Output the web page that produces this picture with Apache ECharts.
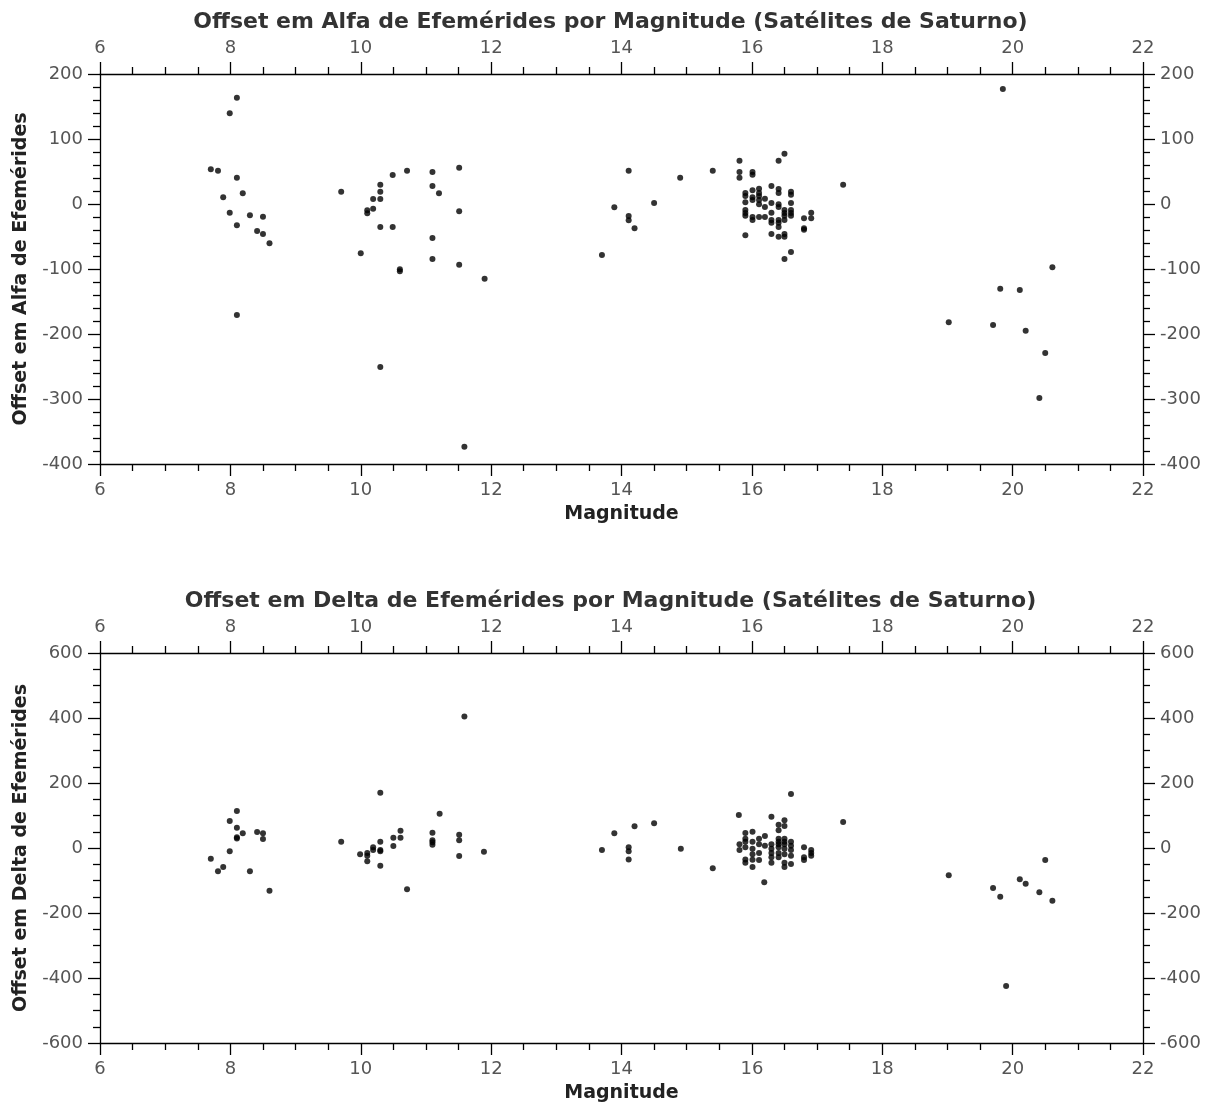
<!DOCTYPE html>
<html><head><meta charset="utf-8">
<script src="https://cdn.jsdelivr.net/npm/echarts@6/dist/echarts.min.js"></script>
<style>html,body{margin:0;padding:0;background:#fff}#c{width:1221px;height:1108px}</style>
</head><body><div id="c"></div>
<script>
// Top chart: Offset em Alfa
const magA = [8.10,7.99,7.70,7.81,8.10,7.89,8.19,7.99,8.30,8.50,8.10,8.41,8.50,8.60,8.10,
 9.70,10.00,10.30,10.30,10.30,10.19,10.19,10.10,10.10,10.30,10.49,10.49,10.71,11.10,11.10,11.20,11.51,11.51,11.10,11.10,11.51,10.60,10.60,11.90,10.30,11.59,
 13.70,14.11,13.89,14.11,14.11,14.20,14.50,14.90,15.40,17.40,
 15.81,15.81,15.81,16.01,16.01,16.50,16.41,
 15.90,15.90,15.90,15.90,15.90,15.90,15.90,
 16.01,16.01,16.01,16.01,16.01,
 16.11,16.11,16.11,16.11,16.11,16.11,
 16.20,16.20,16.20,
 16.30,16.30,16.30,16.30,16.30,16.30,
 16.41,16.41,16.41,16.41,16.41,16.41,16.41,16.41,
 16.50,16.50,16.50,16.50,16.50,16.50,16.50,
 16.60,16.60,16.60,16.60,16.60,16.60,16.60,
 16.80,16.80,16.80,16.91,16.91,
 20.61,19.81,20.11,19.02,19.70,20.20,20.50,20.41,19.85];
const alfa = [163.5,139.5,53.3,51,40.5,10.2,16.5,-13.4,-17.4,-19.5,-32.8,-41.5,-46,-60.5,-170.8,
 18.9,-75.9,29.7,19,7.7,7.7,-7.2,-9.7,-14.3,-35.4,-35.4,44.6,51.3,49.2,27.7,16.4,55.9,-11.3,-52.3,-84.6,-93.4,-100.5,-103.5,-114.9,-250.8,-373.4,
 -78.5,51.3,-5,-18.5,-25,-37.4,1.5,40.5,51.3,29.7,
 66.7,49.2,40.5,49.2,45,77.4,66.7,
 16.9,12.3,2.6,-9.2,-13.8,-17.9,-48.2,
 21,10.3,6.2,-20,-24.6,
 23.5,16.9,12.3,6.2,-0.5,-20,
 8.2,-4.6,-20,
 27.7,1.5,-13.4,-24.6,-28.8,-46.2,
 23,16.9,-0.5,-4.6,-24.6,-28.8,-35.4,-50.3,
 -9.2,-13.8,-18,-24.6,-46.2,-50.3,-84.6,
 19,14.4,1.5,-9.2,-13.8,-18,-73.8,
 -22,-37.4,-39.5,-13.4,-22,
 -97.4,-130.3,-132.3,-182,-186,-194.9,-229.2,-298.5,176.9];

// Bottom chart: Offset em Delta
const magD = [7.70,7.81,7.89,7.99,7.99,8.10,8.10,8.10,8.10,8.19,8.41,8.50,8.50,8.30,8.60,
 9.70,9.99,10.10,10.10,10.10,10.19,10.19,10.30,10.30,10.30,10.30,10.30,10.50,10.50,10.61,10.61,10.71,11.21,11.10,11.10,11.10,11.10,11.51,11.51,11.51,11.89,11.59,
 13.70,13.89,14.11,14.11,14.11,14.20,14.50,14.91,15.40,15.80,16.30,16.60,17.40,16.19,
 15.81,15.81,
 15.90,15.90,15.90,15.90,15.90,15.90,
 16.01,16.01,16.01,16.01,16.01,16.01,
 16.11,16.11,16.11,16.11,
 16.20,16.20,
 16.30,16.30,16.30,16.30,16.30,
 16.41,16.41,16.41,16.41,16.41,16.41,16.41,16.41,
 16.50,16.50,16.50,16.50,16.50,16.50,16.50,16.50,16.50,
 16.60,16.60,16.60,16.60,16.60,
 16.80,16.80,16.80,16.91,16.91,16.91,
 19.02,19.70,19.81,20.11,20.20,20.41,20.50,20.61,19.90];
const delta = [-32.8,-71.8,-58.5,-10.3,83,113.8,62.6,33,29,45.1,49.2,45.1,27.7,-71.8,-131.3,
 19.4,-19.5,-15.4,-23.7,-41,2,-6.2,19.4,-6.2,-10,-54.5,170.2,31.8,6.1,53.2,31.8,-127.2,105.6,47,23.5,17.4,10,41,23.5,-24.6,-11.3,405,
 -6.2,45.2,2,-10.3,-35,66.7,75.9,-2.2,-62.5,101.5,96.3,166,80,-105.5,
 11.3,-6.2,
 46,28.7,19.4,2,-35,-45.2,
 50,19.4,-2.2,-19.5,-36,-58.5,
 28.7,11.3,-15.4,-37,
 37,7.1,
 11.3,-2.2,-15.4,-28.7,-45.2,
 71.7,54.5,28.7,19.4,11.3,2,-15.4,-28.7,
 85.2,67.7,28.7,19.4,11.3,-2.2,-19.5,-45.2,-58.5,
 19.4,7.1,-6.2,-23.7,-49.2,
 2,-28.7,-37,-6.2,-15.4,-23.7,
 -84,-123,-149.8,-96.3,-110,-136.3,-37,-162,-424.6];

const titles = ['Offset em Alfa de Efemérides por Magnitude (Satélites de Saturno)',
                'Offset em Delta de Efemérides por Magnitude (Satélites de Saturno)'];
const yNames = ['Offset em Alfa de Efemérides','Offset em Delta de Efemérides'];

const FONT = 'DejaVu Sans';
const labelColor = '#555';
function xAx(grid, pos, showName) {
  return {
    type:'value', gridIndex:grid, position:pos, min:6, max:22, interval:2,
    axisLine:{show:true, onZero:false, lineStyle:{color:'#000', width:1.3}},
    axisTick:{show:true, inside:false, length:12, lineStyle:{color:'#000', width:1.3}},
    minorTick:{show:true, splitNumber:4, length:7, lineStyle:{color:'#000', width:1.3}},
    splitLine:{show:false},
    axisLabel:{show:true, margin:17, fontFamily:FONT, fontSize:18, color:labelColor},
    name: showName ? 'Magnitude' : '', nameLocation:'middle', nameGap:41,
    nameTextStyle:{fontFamily:FONT, fontSize:19, fontWeight:'bold', color:'#222'}
  };
}
function yAx(grid, pos, min, max, interval, minorSplit, name) {
  return {
    type:'value', gridIndex:grid, position:pos, min:min, max:max, interval:interval,
    axisLine:{show:true, onZero:false, lineStyle:{color:'#000', width:1.3}},
    axisTick:{show:true, inside:false, length:12, lineStyle:{color:'#000', width:1.3}},
    minorTick:{show:true, splitNumber:minorSplit, length:7, lineStyle:{color:'#000', width:1.3}},
    splitLine:{show:false},
    axisLabel:{show:true, margin:17, fontFamily:FONT, fontSize:18, color:labelColor},
    name: name || '', nameLocation:'middle', nameGap:69,
    nameTextStyle:{fontFamily:FONT, fontSize:19, fontWeight:'bold', color:'#222'}
  };
}
const chart = echarts.init(document.getElementById('c'), null, {renderer:'canvas'});
chart.setOption({
  backgroundColor:'#fff',
  animation:false,
  title:[
    {text:titles[0], left:'center', top:6, textStyle:{fontFamily:FONT, fontSize:22, fontWeight:'bold', color:'#333'}},
    {text:titles[1], left:'center', top:585, textStyle:{fontFamily:FONT, fontSize:22, fontWeight:'bold', color:'#333'}}
  ],
  grid:[
    {left:100, right:78, top:74, height:390},
    {left:100, right:78, top:653, height:390}
  ],
  xAxis:[xAx(0,'bottom',true), xAx(0,'top',false), xAx(1,'bottom',true), xAx(1,'top',false)],
  yAxis:[yAx(0,'left',-400,200,100,5,yNames[0]), yAx(0,'right',-400,200,100,5,''),
         yAx(1,'left',-600,600,200,4,yNames[1]), yAx(1,'right',-600,600,200,4,'')],
  series:[
    {type:'scatter', xAxisIndex:0, yAxisIndex:0, symbolSize:6, itemStyle:{color:'#000'},
     data: magA.map((m,i)=>[m, alfa[i]])},
    {type:'scatter', xAxisIndex:2, yAxisIndex:2, symbolSize:6, itemStyle:{color:'#000'},
     data: magD.map((m,i)=>[m, delta[i]])}
  ]
});
</script></body></html>
